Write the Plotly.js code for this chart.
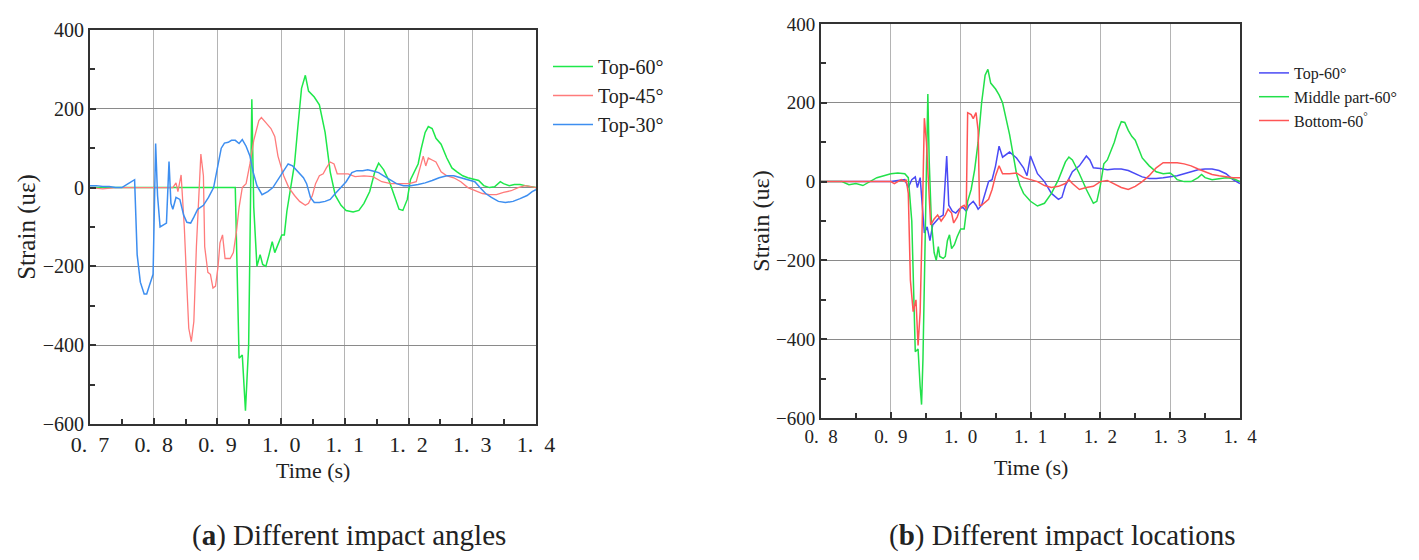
<!DOCTYPE html>
<html>
<head>
<meta charset="utf-8">
<script src="https://cdn.plot.ly/plotly-3.0.1.min.js"></script>
<style>
  html, body { margin: 0; padding: 0; background: #fff; }
  #myDiv { width: 1419px; height: 560px; }
</style>
</head>
<body>
<div id="myDiv"></div>
<script>
// (a) different impact angles
const timeA60 = [0.70, 0.80, 0.90, 0.928, 0.934, 0.939, 0.944, 0.949, 0.954, 0.957, 0.962, 0.967, 0.971, 0.976, 0.981, 0.986, 0.990, 0.995, 1.001, 1.005, 1.009, 1.015, 1.021, 1.026, 1.032, 1.038, 1.043, 1.052, 1.060, 1.069, 1.077, 1.085, 1.094, 1.102, 1.113, 1.122, 1.130, 1.139, 1.147, 1.153, 1.161, 1.170, 1.178, 1.185, 1.191, 1.198, 1.203, 1.209, 1.215, 1.220, 1.226, 1.231, 1.237, 1.243, 1.251, 1.260, 1.268, 1.276, 1.285, 1.293, 1.302, 1.310, 1.318, 1.327, 1.335, 1.344, 1.349, 1.358, 1.366, 1.375, 1.383, 1.392, 1.400];
const strainA60 = [0, 0, 0, 0, -433, -425, -566, -400, 224, -50, -200, -170, -195, -200, -170, -137, -165, -145, -120, -120, -60, 0, 60, 150, 252, 285, 245, 230, 210, 140, 40, -20, -45, -58, -62, -58, -40, -10, 40, 62, 45, 15, -20, -55, -58, -30, 20, 40, 60, 100, 140, 155, 150, 125, 110, 75, 50, 40, 30, 25, 22, 18, 5, 0, 2, 15, 10, 5, 8, 8, 5, 2, 0];

const timeA45 = [0.70, 0.72, 0.74, 0.80, 0.830, 0.835, 0.838, 0.843, 0.848, 0.852, 0.855, 0.859, 0.863, 0.867, 0.871, 0.874, 0.878, 0.880, 0.885, 0.889, 0.893, 0.897, 0.901, 0.904, 0.908, 0.912, 0.920, 0.925, 0.930, 0.934, 0.939, 0.945, 0.951, 0.957, 0.965, 0.969, 0.976, 0.984, 0.990, 0.995, 1.004, 1.012, 1.021, 1.029, 1.038, 1.043, 1.049, 1.054, 1.060, 1.066, 1.071, 1.077, 1.083, 1.088, 1.097, 1.105, 1.116, 1.130, 1.144, 1.158, 1.172, 1.187, 1.201, 1.212, 1.219, 1.223, 1.227, 1.231, 1.237, 1.243, 1.251, 1.260, 1.271, 1.282, 1.293, 1.304, 1.316, 1.327, 1.338, 1.349, 1.361, 1.372, 1.383, 1.400];
const strainA45 = [0, -3, 0, 0, 0, 12, -10, 32, -100, -250, -357, -391, -340, -150, 0, 85, 30, -150, -215, -220, -255, -250, -200, -140, -120, -180, -180, -165, -110, -50, 0, 10, 60, 120, 170, 178, 165, 150, 130, 80, 30, 0, -20, -35, -45, -40, -20, 10, 30, 35, 50, 65, 60, 35, 35, 35, 28, 30, 28, 15, 10, 10, 10, 15, 60, 80, 55, 75, 70, 65, 40, 30, 25, 15, 0, -8, -15, -18, -18, -12, -8, 0, 5, 0];

const timeA30 = [0.70, 0.71, 0.72, 0.73, 0.74, 0.75, 0.76, 0.768, 0.770, 0.774, 0.779, 0.785, 0.789, 0.793, 0.799, 0.803, 0.806, 0.810, 0.816, 0.820, 0.824, 0.827, 0.830, 0.835, 0.841, 0.847, 0.852, 0.858, 0.863, 0.869, 0.878, 0.886, 0.894, 0.900, 0.906, 0.911, 0.917, 0.922, 0.928, 0.934, 0.939, 0.945, 0.951, 0.956, 0.962, 0.970, 0.979, 0.987, 0.995, 1.004, 1.011, 1.018, 1.026, 1.035, 1.040, 1.046, 1.052, 1.060, 1.069, 1.077, 1.085, 1.094, 1.102, 1.111, 1.119, 1.128, 1.136, 1.144, 1.153, 1.161, 1.170, 1.181, 1.192, 1.203, 1.215, 1.226, 1.237, 1.248, 1.260, 1.271, 1.282, 1.293, 1.304, 1.312, 1.321, 1.330, 1.341, 1.352, 1.364, 1.375, 1.386, 1.394, 1.400];
const strainA30 = [5, 5, 3, 3, 0, 0, 10, 18, 20, -170, -240, -270, -270, -250, -220, 112, -20, -100, -95, -90, 66, -40, -55, -25, -30, -70, -88, -90, -75, -55, -45, -25, 0, 50, 100, 113, 115, 120, 120, 112, 122, 105, 80, 40, 5, -18, -10, 0, 20, 45, 60, 55, 40, 25, 10, -25, -38, -38, -35, -30, -15, 0, 15, 38, 43, 43, 45, 42, 38, 30, 20, 10, 5, 5, 8, 12, 18, 25, 30, 30, 25, 20, 15, 0, -15, -25, -35, -38, -35, -28, -20, -10, -5];

// (b) different impact locations
const timeBTop = [0.80, 0.85, 0.90, 0.910, 0.920, 0.925, 0.930, 0.935, 0.938, 0.942, 0.945, 0.948, 0.952, 0.956, 0.960, 0.965, 0.970, 0.975, 0.978, 0.980, 0.983, 0.988, 0.993, 0.998, 1.003, 1.008, 1.012, 1.018, 1.022, 1.025, 1.030, 1.035, 1.040, 1.045, 1.050, 1.055, 1.060, 1.070, 1.080, 1.090, 1.095, 1.100, 1.105, 1.110, 1.120, 1.130, 1.140, 1.145, 1.150, 1.160, 1.170, 1.180, 1.185, 1.190, 1.200, 1.210, 1.220, 1.230, 1.240, 1.250, 1.260, 1.270, 1.280, 1.290, 1.300, 1.310, 1.320, 1.330, 1.340, 1.350, 1.360, 1.370, 1.380, 1.390, 1.400];
const strainBTop = [0, 0, 0, 3, 5, -15, 5, 12, -15, 10, -50, -130, -115, -150, -110, -100, -90, -85, 0, 65, -60, -75, -80, -70, -65, -75, -60, -50, -60, -70, -60, -30, 0, 5, 40, 90, 62, 75, 60, 35, 15, 65, 40, 20, 0, -30, -45, -40, -10, 25, 40, 65, 55, 35, 33, 30, 32, 32, 28, 20, 12, 8, 8, 10, 12, 15, 20, 25, 30, 32, 32, 28, 20, 5, -5];

const timeBMid = [0.80, 0.82, 0.83, 0.84, 0.85, 0.86, 0.87, 0.88, 0.89, 0.90, 0.91, 0.92, 0.925, 0.930, 0.935, 0.939, 0.942, 0.944, 0.946, 0.949, 0.951, 0.953, 0.955, 0.958, 0.962, 0.965, 0.968, 0.970, 0.975, 0.978, 0.981, 0.984, 0.987, 0.991, 0.995, 1.000, 1.005, 1.010, 1.015, 1.020, 1.025, 1.030, 1.035, 1.039, 1.043, 1.050, 1.055, 1.060, 1.065, 1.070, 1.075, 1.080, 1.085, 1.090, 1.100, 1.110, 1.120, 1.130, 1.140, 1.150, 1.155, 1.160, 1.170, 1.180, 1.190, 1.195, 1.200, 1.205, 1.210, 1.220, 1.225, 1.230, 1.235, 1.240, 1.245, 1.250, 1.260, 1.270, 1.280, 1.290, 1.300, 1.305, 1.310, 1.320, 1.330, 1.340, 1.345, 1.350, 1.360, 1.370, 1.380, 1.390, 1.400];
const strainBMid = [0, 0, 0, -8, -5, -10, 0, 10, 15, 20, 22, 20, 10, -100, -432, -425, -520, -566, -450, -200, 0, 222, 50, -100, -180, -200, -165, -190, -195, -190, -150, -135, -170, -160, -140, -120, -120, -50, -20, 30, 100, 200, 270, 285, 250, 235, 220, 200, 160, 120, 70, 20, -10, -30, -50, -62, -55, -30, 5, 50, 62, 55, 20, -20, -55, -50, -10, 45, 55, 100, 130, 152, 150, 130, 115, 105, 60, 40, 25, 20, 22, 15, 5, 0, 0, 10, 18, 10, 5, 8, 10, 8, 0];

const timeBBot = [0.80, 0.85, 0.90, 0.905, 0.910, 0.915, 0.920, 0.922, 0.925, 0.928, 0.932, 0.936, 0.939, 0.942, 0.945, 0.948, 0.951, 0.954, 0.957, 0.962, 0.967, 0.972, 0.978, 0.982, 0.987, 0.990, 0.995, 1.000, 1.005, 1.008, 1.010, 1.015, 1.018, 1.022, 1.025, 1.027, 1.030, 1.040, 1.045, 1.050, 1.055, 1.060, 1.070, 1.080, 1.090, 1.100, 1.110, 1.120, 1.130, 1.140, 1.150, 1.155, 1.160, 1.170, 1.180, 1.190, 1.200, 1.210, 1.220, 1.230, 1.240, 1.250, 1.260, 1.270, 1.280, 1.290, 1.300, 1.310, 1.320, 1.330, 1.340, 1.350, 1.360, 1.370, 1.380, 1.390, 1.400];
const strainBBot = [0, 0, 0, -5, 0, 5, 0, 5, -30, -250, -330, -300, -416, -330, -100, 161, 100, 10, -110, -95, -85, -100, -85, -70, -80, -105, -90, -65, -60, -70, 175, 170, 160, 175, 130, -60, -60, -45, -20, 15, 40, 20, 20, 22, 10, 5, 0, -10, -15, -12, -5, 5, -5, -20, -15, -12, 0, 3, -5, -15, -20, -12, 0, 15, 35, 48, 48, 48, 45, 40, 32, 25, 18, 15, 12, 10, 10];

const tickValsA = [0.7, 0.8, 0.9, 1.0, 1.1, 1.2, 1.3, 1.4];
const tickValsB = [0.8, 0.9, 1.0, 1.1, 1.2, 1.3, 1.4];
const strainTicks = [400, 200, 0, -200, -400, -600];

const serif = 'Liberation Serif, Times New Roman, serif';
const spaced = v => v.toFixed(1).replace('.', '.\u00a0\u00a0');
const minusText = v => v < 0 ? '\u2212' + Math.abs(v) : String(v);

const traces = [
  {x: timeA60, y: strainA60, name: 'Top-60°', xaxis: 'x', yaxis: 'y', legend: 'legend',
   type: 'scatter', mode: 'lines', line: {color: '#1ee84a', width: 1.5}},
  {x: timeA45, y: strainA45, name: 'Top-45°', xaxis: 'x', yaxis: 'y', legend: 'legend',
   type: 'scatter', mode: 'lines', line: {color: '#ff7b7b', width: 1.3}},
  {x: timeA30, y: strainA30, name: 'Top-30°', xaxis: 'x', yaxis: 'y', legend: 'legend',
   type: 'scatter', mode: 'lines', line: {color: '#3d8ef0', width: 1.5}},
  {x: timeBTop, y: strainBTop, name: 'Top-60°', xaxis: 'x2', yaxis: 'y2', legend: 'legend2',
   type: 'scatter', mode: 'lines', line: {color: '#4a4af5', width: 1.5}},
  {x: timeBMid, y: strainBMid, name: 'Middle part-60°', xaxis: 'x2', yaxis: 'y2', legend: 'legend2',
   type: 'scatter', mode: 'lines', line: {color: '#22e04a', width: 1.5}},
  {x: timeBBot, y: strainBBot, name: 'Bottom-60<sup>°</sup>', xaxis: 'x2', yaxis: 'y2', legend: 'legend2',
   type: 'scatter', mode: 'lines', line: {color: '#ff5555', width: 1.5}}
];

function xAxis(domain, range, vals, size) {
  return {
    domain: domain, range: range,
    tickmode: 'array', tickvals: vals, ticktext: vals.map(spaced),
    ticks: 'inside', ticklen: 6, tickwidth: 2, tickcolor: '#333',
    minor: {tickmode: 'linear', tick0: range[0], dtick: 0.05, ticks: 'inside', ticklen: 5, tickwidth: 2, tickcolor: '#333', showgrid: false},
    showgrid: true, gridcolor: '#b4b4b4', gridwidth: 1,
    showline: true, mirror: true, linecolor: '#333', linewidth: 2,
    zeroline: false, tickfont: {family: serif, size: size, color: '#222'},
    fixedrange: true
  };
}

function yAxis(domain, anchor, size, titleSize) {
  return {
    domain: domain, range: [-600, 400], anchor: anchor,
    title: {text: 'Strain (uε)', font: {family: serif, size: titleSize, color: '#222'}, standoff: 0},
    tickmode: 'array', tickvals: strainTicks, ticktext: strainTicks.map(minusText),
    ticks: 'inside', ticklen: 6, tickwidth: 2, tickcolor: '#333',
    minor: {tickmode: 'linear', tick0: -600, dtick: 100, ticks: 'inside', ticklen: 5, tickwidth: 2, tickcolor: '#333', showgrid: false},
    showgrid: true, gridcolor: '#8a8a8a', gridwidth: 1,
    showline: true, mirror: true, linecolor: '#333', linewidth: 2,
    zeroline: false, tickfont: {family: serif, size: size, color: '#222'},
    fixedrange: true
  };
}

function label(text, x, y, size) {
  return {text: text, x: x / 1419, y: 1 - y / 560, xref: 'paper', yref: 'paper',
    xanchor: 'center', yanchor: 'middle',
    showarrow: false, font: {family: serif, size: size, color: '#222'}};
}

const layout = {
  width: 1419,
  height: 560,
  margin: {l: 0, r: 0, t: 0, b: 0},
  paper_bgcolor: '#fff',
  plot_bgcolor: '#fff',
  font: {family: serif, color: '#222'},
  xaxis: Object.assign(xAxis([90 / 1419, 536 / 1419], [0.7, 1.4], tickValsA, 22), {anchor: 'y'}),
  yaxis: yAxis([1 - 424 / 560, 1 - 30 / 560], 'x', 20, 25),
  xaxis2: Object.assign(xAxis([821 / 1419, 1240 / 1419], [0.8, 1.4], tickValsB, 19), {anchor: 'y2'}),
  yaxis2: yAxis([1 - 418 / 560, 1 - 24 / 560], 'x2', 19, 24),
  legend: {
    x: 548 / 1419, y: 1 - 47 / 560, xanchor: 'left', yanchor: 'top', itemwidth: 40,
    bgcolor: 'rgba(0,0,0,0)', font: {family: serif, size: 20, color: '#222'}
  },
  legend2: {
    x: 1254 / 1419, y: 1 - 56 / 560, xanchor: 'left', yanchor: 'top',
    bgcolor: 'rgba(0,0,0,0)', font: {family: serif, size: 16, color: '#222'}
  },
  annotations: [
    label('Time (s)', 313, 470, 22),
    label('Time (s)', 1031, 467, 22),
    label('(<b>a</b>) Different impact angles', 349, 535, 29),
    label('(<b>b</b>) Different impact locations', 1062, 535, 29)
  ]
};

Plotly.newPlot('myDiv', traces, layout, {staticPlot: true});
</script>
</body>
</html>
